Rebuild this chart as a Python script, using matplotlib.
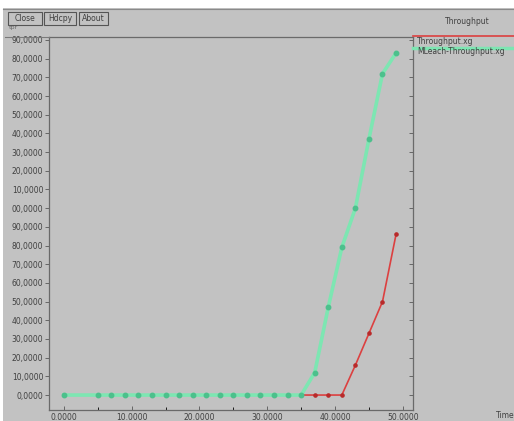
import matplotlib
matplotlib.use("Agg")
import matplotlib.pyplot as plt
from matplotlib.patches import Rectangle
from matplotlib.lines import Line2D

# series (time vs throughput)
time_pts = [0, 5, 7, 9, 11, 13, 15, 17, 19, 21, 23, 25, 27, 29, 31, 33, 35, 37, 39, 41, 43, 45, 47, 49]
leach_tput = [0, 0, 0, 0, 0, 0, 0, 0, 0, 0, 0, 0, 0, 0, 0, 0, 0, 12, 47, 79, 100, 137, 172, 183]
tput = [0, 0, 0, 0, 0, 0, 0, 0, 0, 0, 0, 0, 0, 0, 0, 0, 0, 0, 0, 0, 16, 33, 50, 86]

x_ticks = [0, 10, 20, 30, 40, 50]
x_labels = ["0.0000", "10.0000", "20.0000", "30.0000", "40.0000", "50.0000"]
y_ticks = [0, 10, 20, 30, 40, 50, 60, 70, 80, 90, 100, 110, 120, 130, 140, 150, 160, 170, 180, 190]
y_labels = ["0,0000", "10,0000", "20,0000", "30,0000", "40,0000", "50,0000", "60,0000", "70,0000",
            "80,0000", "90,0000", "00,0000", "10,0000", "20,0000", "30,0000", "40,0000", "50,0000",
            "60,0000", "70,0000", "80,0000", "90,0000"]

W, H = 514, 421
BG = "#c2c2c2"
TXT = "#404040"
RED = "#dc4040"
GREEN = "#7de6b2"


def fx(px):
    return px / W


def fy(py):
    return 1 - py / H


fig = plt.figure(figsize=(W / 100, H / 100), dpi=100)
fig.patch.set_facecolor("white")
fig.patches.append(Rectangle((fx(3), 0), 1, fy(8), transform=fig.transFigure,
                             facecolor=BG, edgecolor="none", zorder=-10))
fig.lines.append(Line2D([fx(3), 1], [fy(9), fy(9)], transform=fig.transFigure, color="#8a8a8a", lw=0.8))

# buttons
for x0, x1, name in [(8, 42, "Close"), (44, 76, "Hdcpy"), (79, 108, "About")]:
    fig.patches.append(Rectangle((fx(x0), fy(25)), fx(x1) - fx(x0), fy(12) - fy(25),
                                 transform=fig.transFigure, facecolor=BG, edgecolor="#555555", lw=0.8))
    fig.text(fx((x0 + x1) / 2), fy(18.5), name, ha="center", va="center", fontsize=5.5, color=TXT)
fig.text(fx(9), fy(28), "tpr", fontsize=4.5, color="#666666", va="center")
fig.text(fx(467), fy(21), "Throughput", ha="center", va="center", fontsize=5.5, color=TXT)
fig.text(fx(496), fy(415), "Time", fontsize=5.5, color=TXT, va="center")

# line across top from left edge to plot
fig.lines.append(Line2D([fx(5), fx(49)], [fy(37), fy(37)], transform=fig.transFigure, color="#7a7a7a", lw=0.8))

# legend on the right
fig.lines.append(Line2D([fx(413), 1], [fy(36), fy(36)], transform=fig.transFigure, color=RED, lw=1.2))
fig.text(fx(417), fy(42), "Throughput.xg", fontsize=5.5, color=TXT, va="center")
fig.lines.append(Line2D([fx(413), 1], [fy(48), fy(48)], transform=fig.transFigure, color=GREEN, lw=2.5))
fig.text(fx(417), fy(52), "MLeach-Throughput.xg", fontsize=5.5, color=TXT, va="center")

ax = fig.add_axes([fx(49), fy(410), fx(413) - fx(49), fy(37) - fy(410)])
ax.set_zorder(1)
ax.set_facecolor(BG)
ax.plot(time_pts, tput, color=RED, lw=1.2, marker="o", ms=2.3, mfc="#b82a2a", mec="#b82a2a", zorder=2)
ax.plot(time_pts, leach_tput, color=GREEN, lw=2.6, marker="o", ms=3.2, mfc="#4cc08c", mec="#4cc08c",
        zorder=3)
ax.set_xlim(-2.2, 51.5)
ax.set_ylim(-8, 191.6)

ax.set_xticks(x_ticks)
ax.set_xticklabels(x_labels)
ax.set_xticks([5, 15, 25, 35, 45], minor=True)
ax.set_yticks(y_ticks)
ax.set_yticklabels(y_labels)
ax.tick_params(axis="both", labelsize=5.5, labelcolor=TXT, color="#666666", length=3, width=0.7, pad=1)
ax.tick_params(axis="x", which="both", direction="in", pad=2)
ax.tick_params(axis="x", which="minor", length=2)
ax.tick_params(axis="y", direction="out")
for s in ax.spines.values():
    s.set_color("#6a6a6a")
    s.set_linewidth(0.9)

# right side ticks point inward
ax2 = ax.twinx()
ax2.set_ylim(ax.get_ylim())
ax2.set_yticks(y_ticks)
ax2.tick_params(axis="y", direction="in", length=3, width=0.7, color="#666666", labelright=False)
for s in ax2.spines.values():
    s.set_visible(False)

fig.savefig("out.png", dpi=100, facecolor=fig.get_facecolor())
